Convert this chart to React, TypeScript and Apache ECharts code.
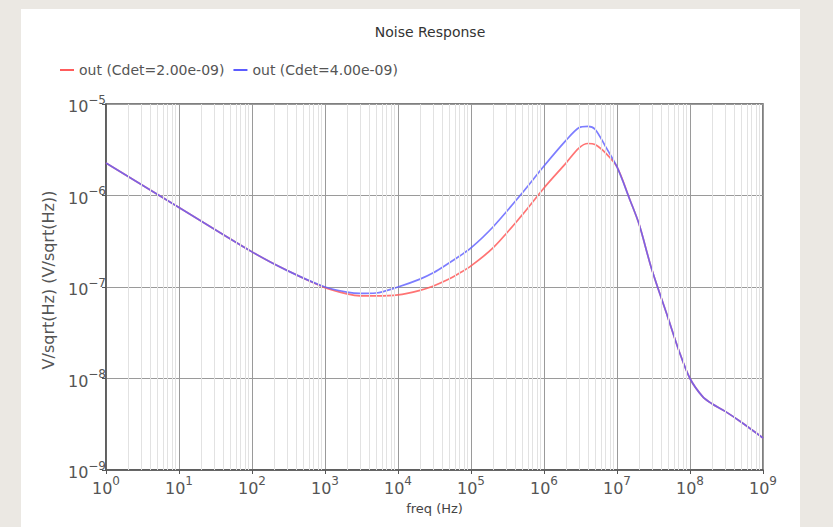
import React, { useEffect, useRef } from 'react';
import * as echarts from 'echarts';

// Frequency points (Hz)
const freqHz = [
  1, 10, 100, 300, 1e3, 2e3, 3e3, 5e3, 1e4, 2e4, 3e4, 5e4, 7e4, 1e5, 2e5, 5e5, 1e6, 2e6, 3e6, 4e6, 5e6, 7e6,
  1e7, 1.5e7, 2e7, 3e7, 5e7, 7e7, 1e8, 1.5e8, 2e8, 3e8, 5e8, 1e9,
];

// Noise density V/sqrt(Hz), Cdet = 2.00e-09
const cdet2Noise = [
  2.26e-6, 7.4e-7, 2.42e-7, 1.52e-7, 9.8e-8, 8.4e-8, 8.0e-8, 8.0e-8, 8.2e-8, 9.2e-8, 1.02e-7, 1.22e-7, 1.42e-7, 1.7e-7,
  2.67e-7, 6.1e-7, 1.21e-6, 2.26e-6, 3.3e-6, 3.7e-6, 3.6e-6, 2.9e-6,
  2.05e-6, 9e-7, 4.9e-7, 1.55e-7, 4.6e-8, 2.05e-8, 1.0e-8, 6.3e-9, 5.3e-9, 4.4e-9, 3.35e-9, 2.24e-9,
];

// Noise density V/sqrt(Hz), Cdet = 4.00e-09
const cdet4Noise = [
  2.26e-6, 7.4e-7, 2.42e-7, 1.52e-7, 1.0e-7, 8.8e-8, 8.5e-8, 8.6e-8, 1.0e-7, 1.22e-7, 1.42e-7, 1.83e-7, 2.18e-7, 2.67e-7,
  4.53e-7, 1.06e-6, 2.1e-6, 4.0e-6, 5.5e-6, 5.7e-6, 5.3e-6, 3.4e-6,
  2.05e-6, 9e-7, 4.9e-7, 1.55e-7, 4.6e-8, 2.05e-8, 1.0e-8, 6.3e-9, 5.3e-9, 4.4e-9, 3.35e-9, 2.24e-9,
];

const seriesNames = ['out (Cdet=2.00e-09)', 'out (Cdet=4.00e-09)'];
const seriesColors = ['#ff5c5c', '#5c5cff'];

const xDecadeExps = [0, 1, 2, 3, 4, 5, 6, 7, 8, 9];
const yDecadeExps = [-9, -8, -7, -6, -5];
const minorMultipliers = [2, 3, 4, 5, 6, 7, 8, 9];

const FONT = 'DejaVu Sans';

export default function App() {
  const ref = useRef<HTMLDivElement>(null);

  useEffect(() => {
    const chart = echarts.init(ref.current!, null, { renderer: 'svg' });

    const supLabel = (v: number) => {
      const e = Math.round(Math.log10(v));
      const txt = e < 0 ? `\u2212${-e}` : `${e}`;
      return `{b|10}{s|${txt}}`;
    };
    const labelRich = {
      b: { fontFamily: FONT, fontSize: 16, color: '#555', verticalAlign: 'bottom' },
      s: { fontFamily: FONT, fontSize: 12, color: '#555', verticalAlign: 'bottom', padding: [0, 0, 9, 0] },
    };

    const minorX: any[] = [];
    xDecadeExps.slice(0, -1).forEach((e) =>
      minorMultipliers.forEach((m) => minorX.push({ xAxis: m * Math.pow(10, e) }))
    );
    const minorY: any[] = [];
    yDecadeExps.slice(0, -1).forEach((e) =>
      minorMultipliers.forEach((m) => minorY.push({ yAxis: m * Math.pow(10, e) }))
    );

    const makeData = (vals: number[]) => freqHz.map((f, i) => [f, vals[i]]);

    chart.setOption({
      animation: false,
      title: {
        text: 'Noise Response',
        left: 425,
        textAlign: 'center',
        top: 20,
        textStyle: { fontFamily: FONT, fontSize: 14, fontWeight: 'normal', color: '#333' },
      },
      legend: {
        data: seriesNames,
        left: 55,
        top: 58,
        icon: 'rect',
        itemWidth: 14,
        itemHeight: 2,
        itemGap: 9,
        textStyle: { fontFamily: FONT, fontSize: 14, color: '#555' },
      },
      grid: {
        left: 106,
        top: 104,
        width: 657,
        height: 366,
        show: true,
        borderColor: '#555',
        borderWidth: 1.5,
        backgroundColor: 'transparent',
      },
      xAxis: {
        type: 'log',
        logBase: 10,
        min: 1,
        max: 1e9,
        splitNumber: 9,
        name: 'freq (Hz)',
        nameLocation: 'middle',
        nameGap: 32,
        nameTextStyle: { fontFamily: FONT, fontSize: 13, color: '#444' },
        axisLine: { show: true, lineStyle: { color: '#555', width: 1.5 } },
        axisTick: { show: true, length: 4, lineStyle: { color: '#555' } },
        axisLabel: { formatter: supLabel, rich: labelRich, margin: 5 },
        splitLine: { show: true, lineStyle: { color: '#9a9a9a', width: 1 } },
      },
      yAxis: {
        type: 'log',
        logBase: 10,
        min: 1e-9,
        max: 1e-5,
        splitNumber: 4,
        name: 'V/sqrt(Hz) (V/sqrt(Hz))',
        nameLocation: 'middle',
        nameGap: 50,
        nameTextStyle: { fontFamily: FONT, fontSize: 16, color: '#555', padding: [0, 0, 0, 14] },
        axisLine: { show: true, lineStyle: { color: '#555', width: 1.5 } },
        axisTick: { show: true, length: 4, lineStyle: { color: '#555' } },
        axisLabel: { formatter: supLabel, rich: labelRich, margin: 0 },
        splitLine: { show: true, lineStyle: { color: '#9a9a9a', width: 1 } },
      },
      series: [
        {
          name: '__minorGrid',
          type: 'line',
          data: [],
          silent: true,
          z: 0,
          markLine: {
            silent: true,
            symbol: ['none', 'none'],
            label: { show: false },
            lineStyle: { color: '#e2e2e2', width: 1, type: 'solid' },
            emphasis: { disabled: true },
            data: [...minorX, ...minorY],
          },
        },
        {
          name: seriesNames[0],
          type: 'line',
          data: makeData(cdet2Noise),
          showSymbol: false,
          smooth: 0.3,
          color: seriesColors[0],
          lineStyle: { color: seriesColors[0], width: 1.7, opacity: 0.85 },
          z: 3,
        },
        {
          name: seriesNames[1],
          type: 'line',
          data: makeData(cdet4Noise),
          showSymbol: false,
          smooth: 0.3,
          color: seriesColors[1],
          lineStyle: { color: seriesColors[1], width: 1.7, opacity: 0.8 },
          z: 4,
        },
      ],
    });

    return () => chart.dispose();
  }, []);

  return (
    <div style={{ position: 'fixed', left: 0, top: 0, width: 833, height: 527, background: '#ebe8e3' }}>
      <div style={{ position: 'absolute', left: 21, top: 9, width: 779, height: 518, background: '#ffffff' }} />
      <div ref={ref} style={{ position: 'absolute', left: 0, top: 0, width: 833, height: 527 }} />
    </div>
  );
}
